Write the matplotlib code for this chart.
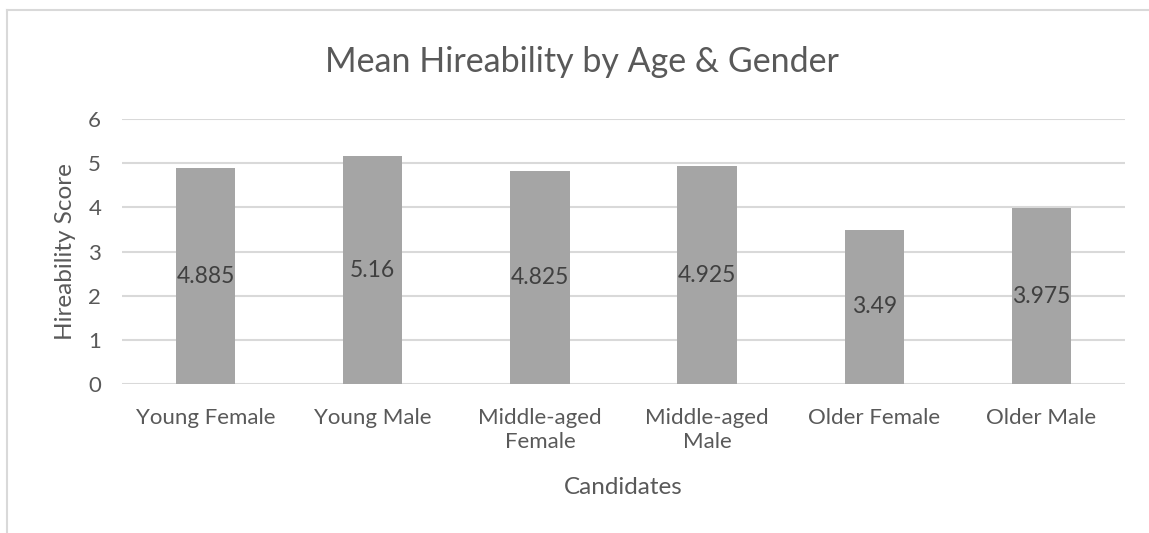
import matplotlib.pyplot as plt
from matplotlib.lines import Line2D

# hireability means per candidate group
candidates = ["Young Female", "Young Male", "Middle-aged\nFemale",
              "Middle-aged\nMale", "Older Female", "Older Male"]
scores = [4.885, 5.16, 4.825, 4.925, 3.49, 3.975]
yticks = [0, 1, 2, 3, 4, 5, 6]

plt.rcParams['font.family'] = ['Lato', 'DejaVu Sans']
text_col = '#595959'

fig = plt.figure(figsize=(11.49, 5.33), dpi=100)
ax = fig.add_axes([122 / 1149, 1 - 384 / 533, 1003 / 1149, 265 / 533])

x = range(len(candidates))
bars = ax.bar(x, scores, width=0.355, color='#a5a5a5', zorder=3)

# value labels centred in each bar
for rect, v in zip(bars, scores):
    ax.text(rect.get_x() + rect.get_width() / 2, v / 2, f'{v:g}',
            ha='center', va='center', fontsize=16.5, color='#404040', zorder=4)

ax.set_xlim(-0.5, len(candidates) - 0.5)
ax.set_ylim(0, 6)
ax.set_yticks(yticks)
ax.set_xticks(list(x))
ax.set_xticklabels(candidates, va='top', linespacing=1.25)
ax.tick_params(axis='both', length=0, labelsize=16, labelcolor=text_col)
ax.tick_params(axis='x', pad=17)
ax.tick_params(axis='y', pad=15)
ax.yaxis.grid(True, color='#d9d9d9', linewidth=1.5, zorder=0)
for s in ax.spines.values():
    s.set_visible(False)

ax.set_xlabel('Candidates', fontsize=17.5, color=text_col, labelpad=18)
ax.set_ylabel('Hireability Score', fontsize=17.5, color=text_col, labelpad=9)

fig.text(582 / 1149, 1 - 62 / 533, 'Mean Hireability by Age & Gender',
         ha='center', va='center', fontsize=24.5, color=text_col)

# chart frame
fig.add_artist(Line2D([7 / 1149, 1], [1 - 10 / 533] * 2, transform=fig.transFigure,
                      color='#d9d9d9', linewidth=1.5))
fig.add_artist(Line2D([7 / 1149] * 2, [0, 1 - 10 / 533], transform=fig.transFigure,
                      color='#d9d9d9', linewidth=1.5))

fig.savefig('out.png', dpi=100)
